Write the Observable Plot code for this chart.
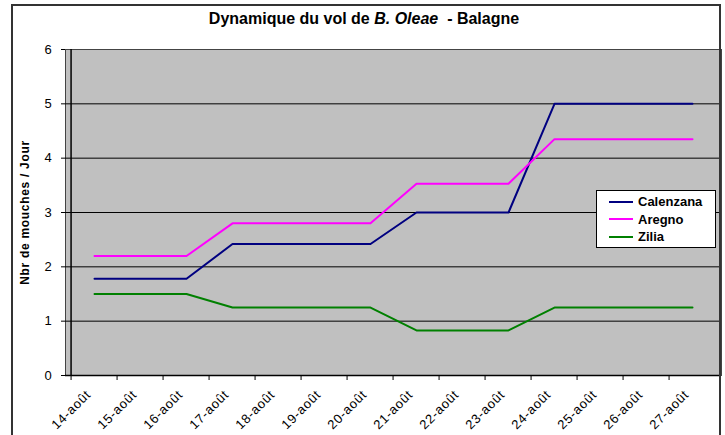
<!DOCTYPE html>
<html>
<head>
<meta charset="utf-8">
<script src="https://cdn.jsdelivr.net/npm/d3@7"></script>
<script src="https://cdn.jsdelivr.net/npm/@observablehq/plot@0.6"></script>
<style>
  html, body { margin: 0; padding: 0; background: #fff; }
  #wrap { position: relative; width: 725px; height: 435px; overflow: hidden; font-family: "Liberation Sans", Arial, sans-serif; }
  #title { box-sizing: border-box; height: 30px; padding-top: 9px; line-height: 20px; font-size: 16px; font-weight: bold; text-align: center; padding-left: 3px; color: #000; }
  #border { position: absolute; left: 11px; top: 4px; width: 706px; height: 460px; border: 2px solid #333; border-bottom: none; pointer-events: none; }
  #legend { position: absolute; left: 596px; top: 190px; box-sizing: border-box; width: 120px; height: 58px; background: #fff; border: 1px solid #000; padding-top: 2px; font-size: 13px; font-weight: bold; }
  #legend .row { height: 17.5px; line-height: 17.5px; display: flex; align-items: center; }
  #legend svg { margin-left: 12px; margin-right: 5px; }
  #chart svg text { letter-spacing: 0.7px; }
</style>
</head>
<body>
<div id="wrap">
  <div id="title">Dynamique du vol de <i>B. Oleae</i>&nbsp; - Balagne</div>
  <div id="chart"></div>
  <div id="border"></div>
  <div id="legend"></div>
</div>
<script>
const days = ["14-août","15-août","16-août","17-août","18-août","19-août","20-août","21-août","22-août","23-août","24-août","25-août","26-août","27-août"];
const calenzana = [1.78,1.78,1.78,2.42,2.42,2.42,2.42,3.0,3.0,3.0,5.0,5.0,5.0,5.0];
const aregno    = [2.2,2.2,2.2,2.8,2.8,2.8,2.8,3.53,3.53,3.53,4.35,4.35,4.35,4.35];
const zilia     = [1.5,1.5,1.5,1.25,1.25,1.25,1.25,0.83,0.83,0.83,1.25,1.25,1.25,1.25];
const seriesNames = ["Calenzana","Aregno","Zilia"];
const seriesColors = ["#000080","#FF00FF","#008000"];
const yTicks = [0,1,2,3,4,5,6];
const yLabel = "Nbr de mouches / Jour";

const seriesValues = [calenzana, aregno, zilia];
const rows = seriesNames.flatMap((s, k) => days.map((d, i) => ({day: d, value: seriesValues[k][i], series: s})));

const W = 725, ML = 65, MR = 4;
const bw = (W - ML - MR) / days.length;

const chart = Plot.plot({
  width: W,
  height: 405,
  marginTop: 19,
  marginBottom: 60,
  marginLeft: ML,
  marginRight: MR,
  style: {fontFamily: "'Liberation Sans', Arial, sans-serif", fontSize: "13px", background: "transparent", color: "#000", overflow: "visible"},
  x: {type: "band", domain: days, padding: 0, axis: null},
  y: {domain: [0, 6], axis: null},
  color: {domain: seriesNames, range: seriesColors},
  marks: [
    Plot.frame({fill: "#C0C0C0", stroke: "#444"}),
    Plot.ruleY([1, 2, 3, 4, 5], {stroke: "#000", strokeWidth: 1}),
    Plot.ruleY([0], {stroke: "#000", strokeWidth: 1.5}),
    Plot.ruleX([days[0]], {dx: -bw / 2, stroke: "#000", strokeWidth: 1.5}),
    Plot.axisY(yTicks, {tickSize: 4, tickPadding: 9, fontSize: 13, tickFormat: d => String(d), label: null}),
    Plot.axisX({tickSize: 5, tickFormat: () => "", dx: -bw / 2, label: null}),
    Plot.axisX({tickSize: 0, tickRotate: -45, tickPadding: 17, dx: -6, fontSize: 13, label: null}),
    Plot.text([yLabel], {frameAnchor: "left", textAnchor: "middle", rotate: -90, dx: -40, fontWeight: "bold", fontSize: 12}),
    Plot.line(rows, {x: "day", y: "value", stroke: "series", strokeWidth: 2})
  ]
});
document.getElementById("chart").appendChild(chart);

const legend = document.getElementById("legend");
seriesNames.forEach((name, k) => {
  const row = document.createElement("div");
  row.className = "row";
  row.innerHTML = `<svg width="24" height="4"><line x1="0" x2="24" y1="2" y2="2" stroke="${seriesColors[k]}" stroke-width="2"/></svg><span>${name}</span>`;
  legend.appendChild(row);
});
</script>
</body>
</html>
